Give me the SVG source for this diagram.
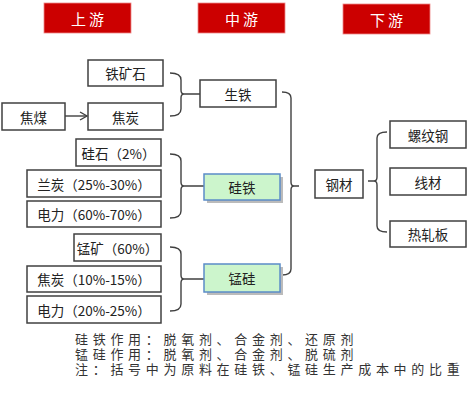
<svg xmlns="http://www.w3.org/2000/svg" width="469" height="400" viewBox="0 0 469 400">
<defs>
<style>
.hdr{fill:#CC0000;stroke:#E88;stroke-width:0.8}
.ht{fill:#fff;font-family:"Noto Sans CJK SC",sans-serif;font-size:15px;letter-spacing:3px;text-anchor:middle;dominant-baseline:central}
.box{fill:#fff;stroke:#404040;stroke-width:1.5}
.gbox{fill:#CCF5CC;stroke:#5B8CC8;stroke-width:1.5}
.shadow{fill:#BBBBBB}
.t{fill:#222;font-family:"Noto Sans CJK SC",sans-serif;font-size:13.5px;text-anchor:middle;dominant-baseline:central}
.ln{fill:none;stroke:#404040;stroke-width:1.4}
.note{fill:#333;font-family:"Liberation Sans","Noto Sans CJK SC",sans-serif;font-size:13px;letter-spacing:4.7px}
</style>
<marker id="arr" markerWidth="10" markerHeight="10" refX="8" refY="5" orient="auto" markerUnits="userSpaceOnUse">
<path d="M1,1 L8,5 L1,9" fill="none" stroke="#404040" stroke-width="1.4"/>
</marker>
</defs>
<rect width="469" height="400" fill="#fff"/>

<g id="hdr-up"><rect class="hdr" x="44" y="3" width="87" height="30"/><text class="ht" x="89" y="18">上游</text></g>
<g id="hdr-mid"><rect class="hdr" x="198" y="3" width="87" height="30"/><text class="ht" x="243" y="18">中游</text></g>
<g id="hdr-down"><rect class="hdr" x="343" y="4" width="87" height="30"/><text class="ht" x="388" y="19">下游</text></g>

<g id="connectors">
<line class="ln" x1="65" y1="116" x2="87" y2="116" marker-end="url(#arr)"/>
<path class="ln" d="M170,73 Q181,73 181,80 V90 Q181,94 184,94 Q181,94 181,98 V109 Q181,116 170,116 M184,94 H200"/>
<path class="ln" d="M170,154 Q181,154 181,161 V182 Q181,186 184,186 Q181,186 181,190 V211 Q181,218 170,218 M184,186 H204"/>
<path class="ln" d="M170,247 Q181,247 181,254 V275 Q181,279 184,279 Q181,279 181,283 V304 Q181,311 170,311 M184,279 H204"/>
<path class="ln" d="M282,92 Q291,92 291,98 V182 Q291,186 294,186 Q291,186 291,190 V269 Q291,275 282,275 M294,186 H299"/>
<path class="ln" d="M387,132 Q377,132 377,138 V177 Q377,181 374,181 Q377,181 377,185 V226 Q377,232 387,232 M374,181 H368"/>
</g>

<g id="n-tiekuangshi"><rect class="box" x="88" y="60" width="75" height="26"/><text class="t" x="125.5" y="73">铁矿石</text></g>
<g id="n-jiaomei"><rect class="box" x="2" y="103" width="63" height="27"/><text class="t" x="33.5" y="116.5">焦煤</text></g>
<g id="n-jiaotan"><rect class="box" x="88" y="103" width="75" height="27"/><text class="t" x="125.5" y="116.5">焦炭</text></g>

<g id="n-guishi"><rect class="box" x="76" y="139" width="85" height="27"/><text class="t" x="118.5" y="152.5">硅石（2%）</text></g>
<g id="n-lantan"><rect class="box" x="27" y="170" width="134" height="27"/><text class="t" x="94" y="183.5">兰炭（25%-30%）</text></g>
<g id="n-dianli1"><rect class="box" x="27" y="201" width="134" height="26"/><text class="t" x="94" y="214">电力（60%-70%）</text></g>

<g id="n-mengkuang"><rect class="box" x="74" y="234" width="87" height="27"/><text class="t" x="117.5" y="247.5">锰矿（60%）</text></g>
<g id="n-jiaotan2"><rect class="box" x="27" y="266" width="134" height="26"/><text class="t" x="94" y="279">焦炭（10%-15%）</text></g>
<g id="n-dianli2"><rect class="box" x="27" y="296" width="134" height="27"/><text class="t" x="94" y="309.5">电力（20%-25%）</text></g>

<g id="n-shengtie"><rect class="box" x="200" y="80" width="76" height="27"/><text class="t" x="238" y="93.5">生铁</text></g>
<g id="n-guitie"><rect class="shadow" x="207" y="177" width="76" height="26"/><rect class="gbox" x="204" y="174" width="76" height="26"/><text class="t" x="242" y="187">硅铁</text></g>
<g id="n-menggui"><rect class="shadow" x="207" y="267" width="76" height="28"/><rect class="gbox" x="204" y="264" width="76" height="28"/><text class="t" x="242" y="278">锰硅</text></g>

<g id="n-gangcai"><rect class="box" x="315" y="170" width="48" height="28"/><text class="t" x="339" y="184">钢材</text></g>
<g id="n-luowengang"><rect class="box" x="390" y="121" width="76" height="27"/><text class="t" x="428" y="134.5">螺纹钢</text></g>
<g id="n-xiancai"><rect class="box" x="390" y="168" width="76" height="27"/><text class="t" x="428" y="181.5">线材</text></g>
<g id="n-rezhaban"><rect class="box" x="390" y="221" width="76" height="26"/><text class="t" x="428" y="234">热轧板</text></g>

<g id="notes">
<text class="note" x="75" y="344"><tspan x="75" y="344">硅铁作用：脱氧剂、合金剂、还原剂</tspan><tspan x="75" y="359">锰硅作用：脱氧剂、合金剂、脱硫剂</tspan><tspan x="75" y="374">注：括号中为原料在硅铁、锰硅生产成本中的比重</tspan></text>
</g>
</svg>
